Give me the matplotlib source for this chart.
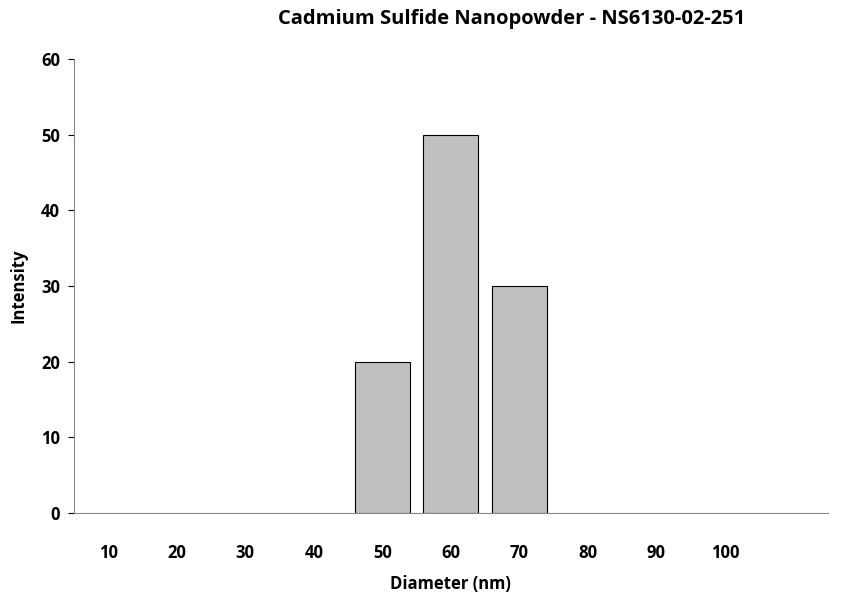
import numpy as np
import matplotlib.pyplot as plt

plt.rcParams['font.family'] = ['Open Sans', 'DejaVu Sans']

categories = ['10', '20', '30', '40', '50', '60', '70', '80', '90', '100', '']
intensity = [0, 0, 0, 0, 20, 50, 30, 0, 0, 0, 0]

fig = plt.figure(figsize=(8.55, 6.04), dpi=100)
ax = fig.add_axes([0.0865, 0.1507, 0.8815, 0.7516])

x = np.arange(len(categories))
edges = ['black' if v > 0 else 'none' for v in intensity]
ax.bar(x, intensity, width=0.8, color='#c0c0c0', edgecolor=edges, linewidth=0.8)

ax.set_xlim(-0.5, len(categories) - 0.5)
ax.set_ylim(0, 60)
ax.set_yticks(range(0, 61, 10))
ax.set_xticks(x)
ax.set_xticklabels(categories, fontsize=12, fontweight='bold')
ax.tick_params(axis='x', length=0, pad=22)
ax.tick_params(axis='y', direction='out', length=4, labelsize=12, pad=6)
for lbl in ax.get_yticklabels():
    lbl.set_fontweight('bold')

ax.spines['top'].set_visible(False)
ax.spines['right'].set_visible(False)
ax.spines['left'].set_color('#888888')
ax.spines['bottom'].set_color('#888888')

ax.set_xlabel('Diameter (nm)', fontsize=12, fontweight='bold', labelpad=10)
ax.set_ylabel('Intensity', fontsize=12, fontweight='bold', labelpad=10)
fig.suptitle('Cadmium Sulfide Nanopowder - NS6130-02-251', x=0.598, y=0.985,
             fontsize=14.5, fontweight='bold')

fig.savefig('out.png', dpi=100)
